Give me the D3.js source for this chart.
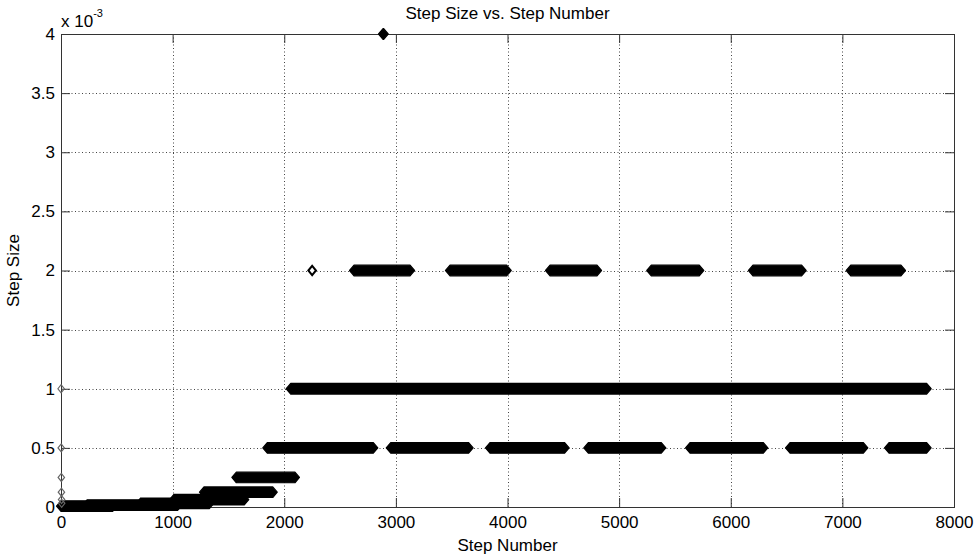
<!DOCTYPE html>
<html>
<head>
<meta charset="utf-8">
<script src="https://cdn.jsdelivr.net/npm/d3@7"></script>
<style>
  html, body { margin: 0; padding: 0; background: #fff; }
  svg { display: block; font-family: "Liberation Sans", Arial, sans-serif; }
</style>
</head>
<body>
<svg id="chart" width="978" height="556"></svg>
<script>
// Runs of consecutive steps that share one step size (first step, last step, size)
const runStart = [0, 233, 714, 1012, 1281, 1571, 1848, 2954, 3843, 4724, 5635, 6531, 7418,
                  2058, 2625, 3485, 4381, 5288, 6199, 7075, 2885];
const runEnd   = [463, 1045, 1329, 1642, 1897, 2096, 2798, 3652, 4512, 5378, 6292, 7188, 7755,
                  7755, 3127, 3993, 4802, 5718, 6635, 7525, 2891];
const runSize  = [0.0078125e-3, 0.015625e-3, 0.03125e-3, 0.0625e-3, 0.125e-3, 0.25e-3,
                  0.5e-3, 0.5e-3, 0.5e-3, 0.5e-3, 0.5e-3, 0.5e-3, 0.5e-3,
                  1e-3, 2e-3, 2e-3, 2e-3, 2e-3, 2e-3, 2e-3, 4e-3];

// First steps of the integration, while the step size is being halved
const startStep = [1, 2, 3, 4, 5, 6];
const startSize = [1e-3, 0.5e-3, 0.25e-3, 0.125e-3, 0.0625e-3, 0.03125e-3];

// Lone step away from its neighbours
const loneStep = [2250];
const loneSize = [2e-3];

const xTicks = [0, 1000, 2000, 3000, 4000, 5000, 6000, 7000, 8000];
const yTicks = [0, 0.5e-3, 1e-3, 1.5e-3, 2e-3, 2.5e-3, 3e-3, 3.5e-3, 4e-3];
const yTickLabels = ["0", "0.5", "1", "1.5", "2", "2.5", "3", "3.5", "4"];

const W = 978, H = 556;
const m = { left: 61, right: 24, top: 34, bottom: 49 };
const iw = W - m.left - m.right, ih = H - m.top - m.bottom;

const svg = d3.select("#chart");
const g = svg.append("g").attr("transform", `translate(${m.left},${m.top})`);

const x = d3.scaleLinear().domain([0, 8000]).range([0, iw]);
const y = d3.scaleLinear().domain([0, 4e-3]).range([ih, 0]);

// dotted grid
const grid = g.append("g").attr("stroke", "#444").attr("stroke-width", 1)
  .attr("stroke-dasharray", "1,2.5");
grid.selectAll("line.v").data(xTicks.slice(1, -1)).join("line")
  .attr("x1", d => Math.round(x(d)) + 0.5).attr("x2", d => Math.round(x(d)) + 0.5)
  .attr("y1", 0).attr("y2", ih);
grid.selectAll("line.h").data(yTicks.slice(1, -1)).join("line")
  .attr("y1", d => Math.round(y(d)) + 0.5).attr("y2", d => Math.round(y(d)) + 0.5)
  .attr("x1", 0).attr("x2", iw);

// axes with inward ticks on all four sides
const tickLen = 9;
const axisColor = "#333";
function styleAxis(sel) {
  sel.select(".domain").remove();
  sel.selectAll(".tick line").attr("stroke", axisColor);
  sel.selectAll(".tick text").attr("fill", "#000").attr("font-size", 17)
     .attr("font-family", "Liberation Sans, Arial, sans-serif");
}
g.append("g").attr("transform", `translate(0,${ih})`)
  .call(d3.axisBottom(x).tickValues(xTicks).tickFormat(d3.format("d"))
        .tickSizeInner(-tickLen).tickSizeOuter(0).tickPadding(8.5))
  .call(styleAxis);
g.append("g")
  .call(d3.axisTop(x).tickValues(xTicks).tickFormat("").tickSizeInner(-tickLen).tickSizeOuter(0))
  .call(styleAxis);
g.append("g")
  .call(d3.axisLeft(y).tickValues(yTicks).tickFormat((d, i) => yTickLabels[i])
        .tickSizeInner(-tickLen).tickSizeOuter(0).tickPadding(6))
  .call(styleAxis);
g.append("g").attr("transform", `translate(${iw},0)`)
  .call(d3.axisRight(y).tickValues(yTicks).tickFormat("").tickSizeInner(-tickLen).tickSizeOuter(0))
  .call(styleAxis);

// box
g.append("rect").attr("x", 0.5).attr("y", 0.5).attr("width", iw).attr("height", ih)
  .attr("fill", "none").attr("stroke", axisColor).attr("stroke-width", 1);

// runs of diamond markers merge into a band with pointed ends
const hw = 4.5, hh = 5.3;
function bandPath(s, e, v) {
  const x0 = x(s), x1 = x(e), yc = y(v);
  return `M${x0 - hw},${yc}L${x0},${yc - hh}L${x1},${yc - hh}L${x1 + hw},${yc}` +
         `L${x1},${yc + hh}L${x0},${yc + hh}Z`;
}
g.append("g").selectAll("path").data(runStart).join("path")
  .attr("d", (s, i) => bandPath(s, runEnd[i], runSize[i]))
  .attr("fill", "#000").attr("stroke", "#000").attr("stroke-width", 1.2)
  .attr("stroke-linejoin", "round");

function diamond(cx, cy, a, b) {
  return `M${cx - a},${cy}L${cx},${cy - b}L${cx + a},${cy}L${cx},${cy + b}Z`;
}
g.append("g").selectAll("path").data(startStep).join("path")
  .attr("d", (s, i) => diamond(x(s), y(startSize[i]), 3.2, 4))
  .attr("fill", "none").attr("stroke", "#666").attr("stroke-width", 1.2);
g.append("g").selectAll("path").data(loneStep).join("path")
  .attr("d", (s, i) => diamond(x(s), y(loneSize[i]), 3.8, 4.6))
  .attr("fill", "#fff").attr("stroke", "#000").attr("stroke-width", 2);

// exponent of the y axis
const expo = svg.append("text").attr("x", m.left).attr("y", 27)
  .attr("font-size", 17).attr("fill", "#000");
expo.append("tspan").text("x 10");
expo.append("tspan").attr("dy", -10).attr("font-size", 11).text("-3");

// titles
svg.append("text").attr("x", m.left + iw / 2).attr("y", 19)
  .attr("text-anchor", "middle").attr("font-size", 17).text("Step Size vs. Step Number");
svg.append("text").attr("x", m.left + iw / 2).attr("y", 551)
  .attr("text-anchor", "middle").attr("font-size", 17).text("Step Number");
svg.append("text").attr("transform", `translate(19,${m.top + ih / 2}) rotate(-90)`)
  .attr("text-anchor", "middle").attr("font-size", 17).text("Step Size");
</script>
</body>
</html>
